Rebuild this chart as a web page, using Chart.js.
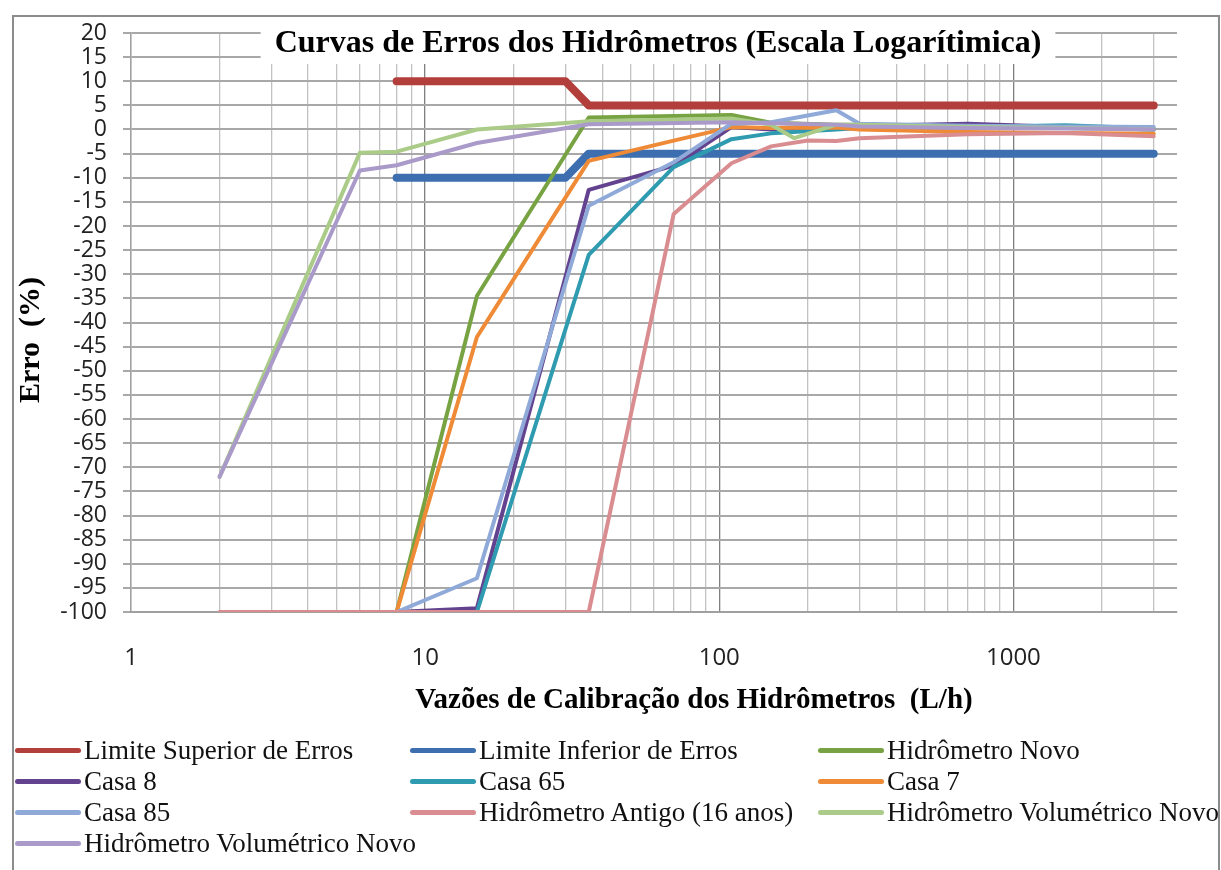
<!DOCTYPE html>
<html>
<head>
<meta charset="utf-8">
<script src="https://cdn.jsdelivr.net/npm/chart.js@4.4.1/dist/chart.umd.min.js"></script>
<style>
  body { margin: 0; background: #fff; }
  #wrap { position: relative; width: 1221px; height: 870px; overflow: hidden; }
  #frame { position: absolute; left: 12px; top: 15px; width: 1204px; height: 900px; border: 2px solid #8c8c8c; }
  #chart { position: absolute; left: 0; top: 0; }
  .leg { position: absolute; font-family: "Liberation Serif", "Times New Roman", serif; font-size: 27px; color: #111; white-space: nowrap; line-height: 30px; }
  .leg span { display: inline-block; width: 66px; height: 5px; border-radius: 3px; vertical-align: middle; margin-right: 3px; position: relative; top: -2px; }
</style>
</head>
<body>
<div id="wrap">
  <div id="frame"></div>
  <canvas id="chart" width="1221" height="870"></canvas>
  <div id="legend"></div>
</div>
<script>
// textos
const chartTitle = 'Curvas de Erros dos Hidrômetros (Escala Logarítimica)';
const xTitle = 'Vazões de Calibração dos Hidrômetros  (L/h)';
const yTitle = 'Erro  (%)';

// nomes das séries
const seriesNames = [
  'Limite Superior de Erros', 'Limite Inferior de Erros', 'Hidrômetro Novo',
  'Casa 8', 'Casa 65', 'Casa 7',
  'Casa 85', 'Hidrômetro Antigo (16 anos)', 'Hidrômetro Volumétrico Novo',
  'Hidrômetro Volumétrico Novo'
];
const seriesColors = ['#b23f3b', '#3d6fb0', '#77a343', '#63438f', '#2f9bb0', '#ef8a36', '#8fa9d8', '#d98d90', '#abcc88', '#a99aca'];

// eixos
const xTickLabels = [1, 10, 100, 1000];
const yTickMin = -100, yTickMax = 20, yTickStep = 5;

// vazões (L/h) e erros (%)
const xLimites = [8, 30, 36, 3000];
const yLimSup = [10, 10, 5, 5];
const yLimInf = [-10, -10, -5, -5];

const xNovo = [8, 15, 36, 110, 150, 250, 300, 700, 1500, 3000];
const yNovo = [-100, -34.5, 2.5, 3, 1.4, 1, 1, 0.8, 0.5, 0];

const xCasa8 = [8, 15, 36, 70, 110, 150, 250, 300, 700, 1500, 3000];
const yCasa8 = [-100, -99.2, -12.5, -7.5, 0.5, 0, 0.8, 0.7, 1.2, 0.5, 0];

const xCasa65 = [15, 36, 70, 110, 150, 250, 300, 700, 1500, 3000];
const yCasa65 = [-100, -26, -7.8, -2, -0.8, 0, 0.3, 0.5, 0.9, 0.2];

const xCasa7 = [8, 15, 36, 70, 110, 150, 250, 300, 700, 1500, 3000];
const yCasa7 = [-100, -43, -6.5, -2.3, 0.5, 0.3, 0.4, 0, -0.5, -0.7, -0.9];

const xCasa85 = [8, 15, 36, 70, 110, 150, 250, 300, 700, 1500, 3000];
const yCasa85 = [-100, -93, -15.8, -6.8, 1.2, 1.5, 4, 1.2, 0.8, 0.6, 0.5];

const xAntigo = [2, 36, 70, 110, 150, 200, 250, 300, 700, 1500, 3000];
const yAntigo = [-100, -100, -17.5, -7, -3.5, -2.3, -2.4, -1.8, -1, -0.7, -1.4];

const xVolum1 = [2, 6, 8, 15, 36, 110, 150, 180, 250, 300, 700, 1500, 3000];
const yVolum1 = [-72, -4.8, -4.6, 0, 1.7, 2.3, 1, -1.8, 1, 1, 0.5, 0.3, 0];

const xVolum2 = [2, 6, 8, 15, 36, 110, 150, 250, 300, 700, 1500, 3000];
const yVolum2 = [-72, -8.5, -7.4, -2.8, 1.1, 1.5, 1.3, 1, 0.6, 0.3, 0.2, 0];

const seriesX = [xLimites, xLimites, xNovo, xCasa8, xCasa65, xCasa7, xCasa85, xAntigo, xVolum1, xVolum2];
const seriesY = [yLimSup, yLimInf, yNovo, yCasa8, yCasa65, yCasa7, yCasa85, yAntigo, yVolum1, yVolum2];

// linhas de grade do eixo log: 1..9, 10..90, 100..900, 1000..3000
const xGridValues = [];
for (let d = 1; d <= 1000; d *= 10) {
  for (let m = 1; m <= 9; m++) {
    if (d * m <= 3000) xGridValues.push(d * m);
  }
}

const datasets = seriesNames.map((name, i) => ({
  label: name,
  data: seriesX[i].map((x, j) => ({ x: x, y: seriesY[i][j] })),
  borderColor: seriesColors[i],
  backgroundColor: seriesColors[i],
  borderWidth: i < 2 ? 8 : 4,
  borderCapStyle: 'round',
  borderJoinStyle: 'round',
  pointRadius: 0,
  tension: 0,
  fill: false,
  order: seriesNames.length - i
}));

// títulos desenhados por cima do gráfico
const overlayTexts = {
  id: 'overlayTexts',
  afterDraw(chart) {
    const c = chart.ctx;
    c.save();
    c.font = 'bold 32px "Liberation Serif"';
    const w = c.measureText(chartTitle).width;
    c.fillStyle = '#fff';
    c.fillRect(658 - w / 2 - 14, 24, w + 28, 40);
    c.fillStyle = '#000';
    c.textAlign = 'center';
    c.textBaseline = 'middle';
    c.fillText(chartTitle, 658, 44);

    c.font = 'bold 29px "Liberation Serif"';
    c.fillText(xTitle, 694, 701);

    c.font = 'bold 30px "Liberation Serif"';
    c.translate(31, 340);
    c.rotate(-Math.PI / 2);
    c.fillText(yTitle, 0, 0);
    c.restore();
  }
};

const ctx = document.getElementById('chart').getContext('2d');
const chart = new Chart(ctx, {
  type: 'line',
  data: { datasets: datasets },
  plugins: [overlayTexts],
  options: {
    responsive: false,
    animation: false,
    layout: { padding: { left: 0, top: 33, right: 44, bottom: 153 } },
    plugins: {
      legend: { display: false },
      title: { display: false },
      tooltip: { enabled: false }
    },
    scales: {
      x: {
        type: 'logarithmic',
        min: 1,
        max: 3600,
        afterBuildTicks: (scale) => { scale.ticks = xGridValues.map(v => ({ value: v })); },
        afterFit: (scale) => { scale.height = 105; },
        ticks: {
          autoSkip: false,
          maxRotation: 0,
          padding: 32,
          color: '#222',
          font: { family: 'Open Sans', size: 24 },
          callback: (v) => xTickLabels.includes(v) ? String(v) : ''
        },
        grid: {
          drawTicks: false,
          color: (c) => (c.tick && [10, 100, 1000].includes(c.tick.value)) ? '#7f7f7f' : '#c2c2c2',
          lineWidth: 1.3
        },
        border: { color: '#a0a0a0', width: 2 }
      },
      y: {
        type: 'linear',
        min: yTickMin,
        max: yTickMax,
        afterFit: (scale) => { scale.width = 131; },
        ticks: {
          stepSize: yTickStep,
          autoSkip: false,
          padding: 16,
          color: '#222',
          font: { family: 'Open Sans', size: 23, lineHeight: 1 }
        },
        grid: { color: '#a8a8a8', lineWidth: 2, tickLength: 8 },
        border: { color: '#a0a0a0', width: 1.5 }
      }
    }
  }
});

// legenda em 3 colunas
const legCols = [15, 410, 818];
const legRows = [735, 766, 797, 828];
const legend = document.getElementById('legend');
seriesNames.forEach((name, i) => {
  const d = document.createElement('div');
  d.className = 'leg';
  d.style.left = legCols[i % 3] + 'px';
  d.style.top = legRows[Math.floor(i / 3)] + 'px';
  d.innerHTML = '<span style="background:' + seriesColors[i] + '"></span>' + name;
  legend.appendChild(d);
});
</script>
</body>
</html>
